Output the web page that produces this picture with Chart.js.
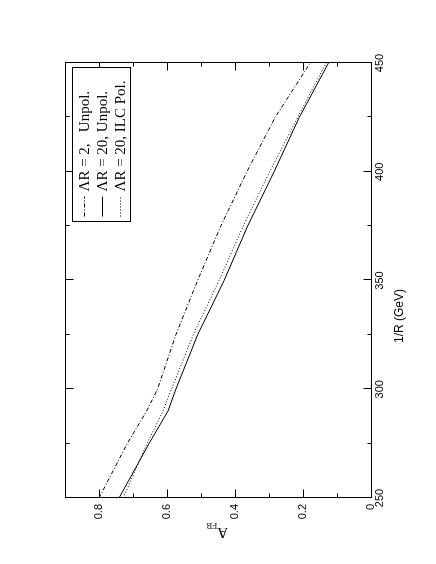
<!DOCTYPE html>
<html>
<head>
<meta charset="utf-8">
<script src="https://cdn.jsdelivr.net/npm/chart.js@4"></script>
<style>
  html, body { margin: 0; padding: 0; background: #fff; overflow: hidden; }
  /* the figure is printed in landscape, so the whole canvas is turned a quarter left */
  #wrap { position: absolute; left: -64px; top: 64px; width: 564px; height: 436px; transform: rotate(-90deg); }
</style>
</head>
<body>
<div id="wrap"><canvas id="afbChart" width="564" height="436"></canvas></div>
<script>
// ── A_FB vs 1/R ──

const invR       = [250, 275, 290, 300, 325, 350, 375, 400, 425, 450];
const afbLR2     = [0.800, 0.717, 0.660, 0.628, 0.574, 0.510, 0.442, 0.365, 0.282, 0.179];
const afbLR20    = [0.741, 0.653, 0.597, 0.574, 0.510, 0.432, 0.363, 0.285, 0.211, 0.125];
const afbLR20Pol = [0.729, 0.659, 0.612, 0.587, 0.523, 0.447, 0.376, 0.298, 0.216, 0.132];

const legendLabels = ['\u039BR = 2,   Unpol.', '\u039BR = 20, Unpol.', '\u039BR = 20, ILC Pol.'];
const xTicks = [250, 300, 350, 400, 450];
const yTicks = [0, 0.2, 0.4, 0.6, 0.8];

const pts = vals => invR.map((r, i) => ({ x: r, y: vals[i] }));
const isMajor = (list, v) => list.some(t => Math.abs(t - v) < 1e-6);

// frame, inward ticks on all sides, boxed legend and axis titles
const decor = {
  id: 'decor',
  afterDatasetsDraw(chart) {
    const { ctx, chartArea: a, scales: { x, y } } = chart;
    const px = v => Math.round(v) + 0.5;
    const L = px(a.left), R = px(a.right), T = px(a.top), B = px(a.bottom);
    ctx.save();
    ctx.strokeStyle = '#000';
    ctx.lineWidth = 1;
    ctx.setLineDash([]);
    ctx.strokeRect(L, T, R - L, B - T);

    ctx.beginPath();
    x.ticks.forEach(t => {
      const p = px(x.getPixelForValue(t.value)), len = isMajor(xTicks, t.value) ? 8 : 4;
      ctx.moveTo(p, B); ctx.lineTo(p, B - len);
      ctx.moveTo(p, T); ctx.lineTo(p, T + len);
    });
    y.ticks.forEach(t => {
      const p = px(y.getPixelForValue(t.value)), len = isMajor(yTicks, t.value) ? 8 : 4;
      ctx.moveTo(L, p); ctx.lineTo(L + len, p);
      ctx.moveTo(R, p); ctx.lineTo(R - len, p);
    });
    ctx.stroke();

    // legend box, top right of the plot
    const bw = 154, bh = 58;
    const bx = Math.round(a.right) - 5 - bw + 0.5, by = Math.round(a.top) + 7 + 0.5;
    ctx.fillStyle = '#fff';
    ctx.fillRect(bx, by, bw, bh);
    ctx.strokeRect(bx, by, bw, bh);
    ctx.font = '15px "Liberation Serif"';
    ctx.textBaseline = 'middle';
    ctx.fillStyle = '#000';
    chart.data.datasets.forEach((ds, i) => {
      const ry = Math.round(by + 11 + i * 18) + 0.5;
      ctx.setLineDash(ds.borderDash || []);
      ctx.beginPath();
      ctx.moveTo(bx + 5, ry); ctx.lineTo(bx + 25, ry);
      ctx.stroke();
      ctx.fillText(ds.label, bx + 30, ry + 1);
    });
    ctx.setLineDash([]);

    // x title
    ctx.font = '12px "Liberation Sans"';
    ctx.textAlign = 'center';
    ctx.fillText('1/R (GeV)', 248, 400);

    // y title A_FB, reading upwards
    ctx.translate(36, 228);
    ctx.rotate(-Math.PI / 2);
    ctx.textAlign = 'left';
    ctx.textBaseline = 'alphabetic';
    ctx.font = '15px "Liberation Serif"';
    ctx.fillText('A', 0, 0);
    const aw = ctx.measureText('A').width;
    ctx.font = '9px "Liberation Serif"';
    ctx.fillText('FB', aw, 5);
    ctx.restore();
  }
};

const line = { borderColor: '#000', borderWidth: 1, pointRadius: 0, tension: 0, fill: false };

new Chart(document.getElementById('afbChart').getContext('2d'), {
  type: 'line',
  data: {
    datasets: [
      { ...line, label: legendLabels[0], data: pts(afbLR2), borderDash: [4, 2, 1, 2] },
      { ...line, label: legendLabels[1], data: pts(afbLR20), borderDash: [] },
      { ...line, label: legendLabels[2], data: pts(afbLR20Pol), borderDash: [1, 2] }
    ]
  },
  options: {
    responsive: false,
    animation: false,
    layout: { padding: { top: 65, right: 63, left: 0, bottom: 0 } },
    plugins: { legend: { display: false }, tooltip: { enabled: false } },
    scales: {
      x: {
        type: 'linear', min: 250, max: 450,
        grid: { display: false, drawTicks: false }, border: { display: false },
        ticks: {
          stepSize: 25, autoSkip: false, maxRotation: 0, padding: 2,
          color: '#000', font: { family: 'Liberation Sans', size: 11 },
          callback: v => isMajor(xTicks, v) ? String(v) : ''
        },
        afterFit: s => { s.height = 65; }
      },
      y: {
        min: 0, max: 0.9,
        grid: { display: false, drawTicks: false }, border: { display: false },
        ticks: {
          stepSize: 0.1, autoSkip: false, padding: 6,
          color: '#000', font: { family: 'Liberation Sans', size: 11 },
          callback: v => isMajor(yTicks, v) ? String(Math.round(v * 10) / 10) : ''
        },
        afterFit: s => { s.width = 66; }
      }
    }
  },
  plugins: [decor]
});
</script>
</body>
</html>
